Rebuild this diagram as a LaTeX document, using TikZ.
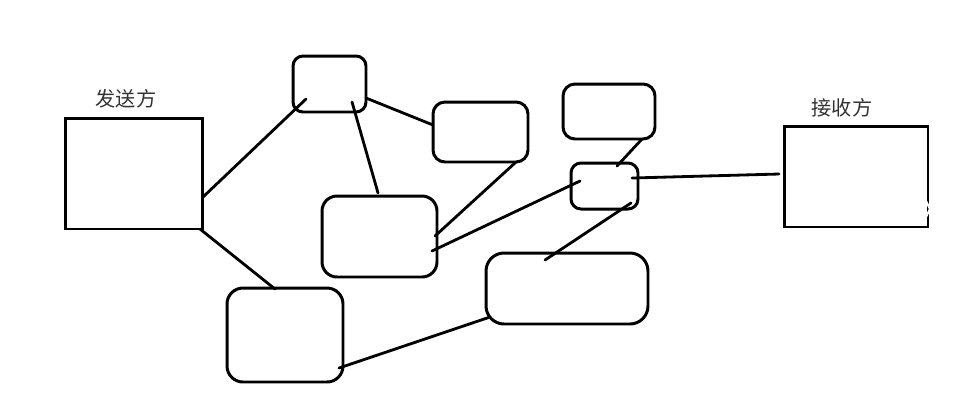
\documentclass[tikz,border=0pt]{standalone}
\usepackage{fontspec}
\newfontfamily\cjk{Noto Sans CJK SC}
\usetikzlibrary{calc}
\begin{document}
\begin{tikzpicture}[x=0.02cm,y=-0.02cm,
  every node/.style={outer sep=0pt,inner sep=0pt},
  party/.style={draw,line width=1.7pt,rectangle},
  hop/.style={draw,line width=1.7pt,rectangle},
  link/.style={line width=1.6pt,line cap=round},
  lbl/.style={font=\cjk\fontsize{11.5}{12}\selectfont,text=black!80}]
\useasboundingbox (0,0) rectangle (963,414);
% parties
\node[party,minimum width=2.76cm,minimum height=2.22cm] (S) at (134,173.5) {};
\node[party,minimum width=2.88cm,minimum height=2.02cm] (R) at (856,176.5) {};
\node[lbl] (Sl) at (126,99) {发送方};
\node[lbl] (Rl) at (842,108) {接收方};
% routers
\node[hop,rounded corners=0.2cm,minimum width=1.46cm,minimum height=1.12cm] (A) at (329.5,84) {};
\node[hop,rounded corners=0.24cm,minimum width=1.9cm,minimum height=1.2cm] (B) at (480.5,132) {};
\node[hop,rounded corners=0.3cm,minimum width=2.3cm,minimum height=1.62cm] (C) at (379.5,236.5) {};
\node[hop,rounded corners=0.24cm,minimum width=1.84cm,minimum height=1.1cm] (D) at (609,111.5) {};
\node[hop,rounded corners=0.2cm,minimum width=1.34cm,minimum height=0.92cm] (E) at (604.5,186) {};
\node[hop,rounded corners=0.36cm,minimum width=3.24cm,minimum height=1.42cm] (F) at (567,288.5) {};
\node[hop,rounded corners=0.32cm,minimum width=2.32cm,minimum height=1.88cm] (G) at (285,335) {};
% links
\draw[link] ($(S.north west)+(138,79)$) -- ($(A.north west)+(13,43)$);
\draw[link] ($(S.north west)+(135,111)$) -- ($(G.north west)+(48,1)$);
\draw[link] ($(A.north west)+(73,42)$) -- ($(B.north west)+(0,23)$);
\draw[link] ($(A.north west)+(59,46)$) -- ($(C.north west)+(56,-3)$);
\draw[link] ($(B.north west)+(83,60)$) -- ($(C.north west)+(113,40)$);
\draw[link] ($(C.north west)+(110,55)$) -- ($(E.north west)+(9,18)$);
\draw[link] ($(D.north west)+(79,55)$) -- ($(E.north west)+(46,3)$);
\draw[link] ($(E.north west)+(61,15)$) -- ($(R.north west)+(-5,48)$);
\draw[link] ($(E.north west)+(60,40)$) -- ($(F.north west)+(59,7)$);
\draw[link] ($(G.north west)+(112,80)$) -- ($(F.north west)+(4,64)$);
% small white mark on receiver border
\draw[white,line width=1.2pt] ($(R.north east)+(-2,75)$) -- ($(R.north east)+(2,83)$) -- ($(R.north east)+(-2,91)$);
\end{tikzpicture}
\end{document}
